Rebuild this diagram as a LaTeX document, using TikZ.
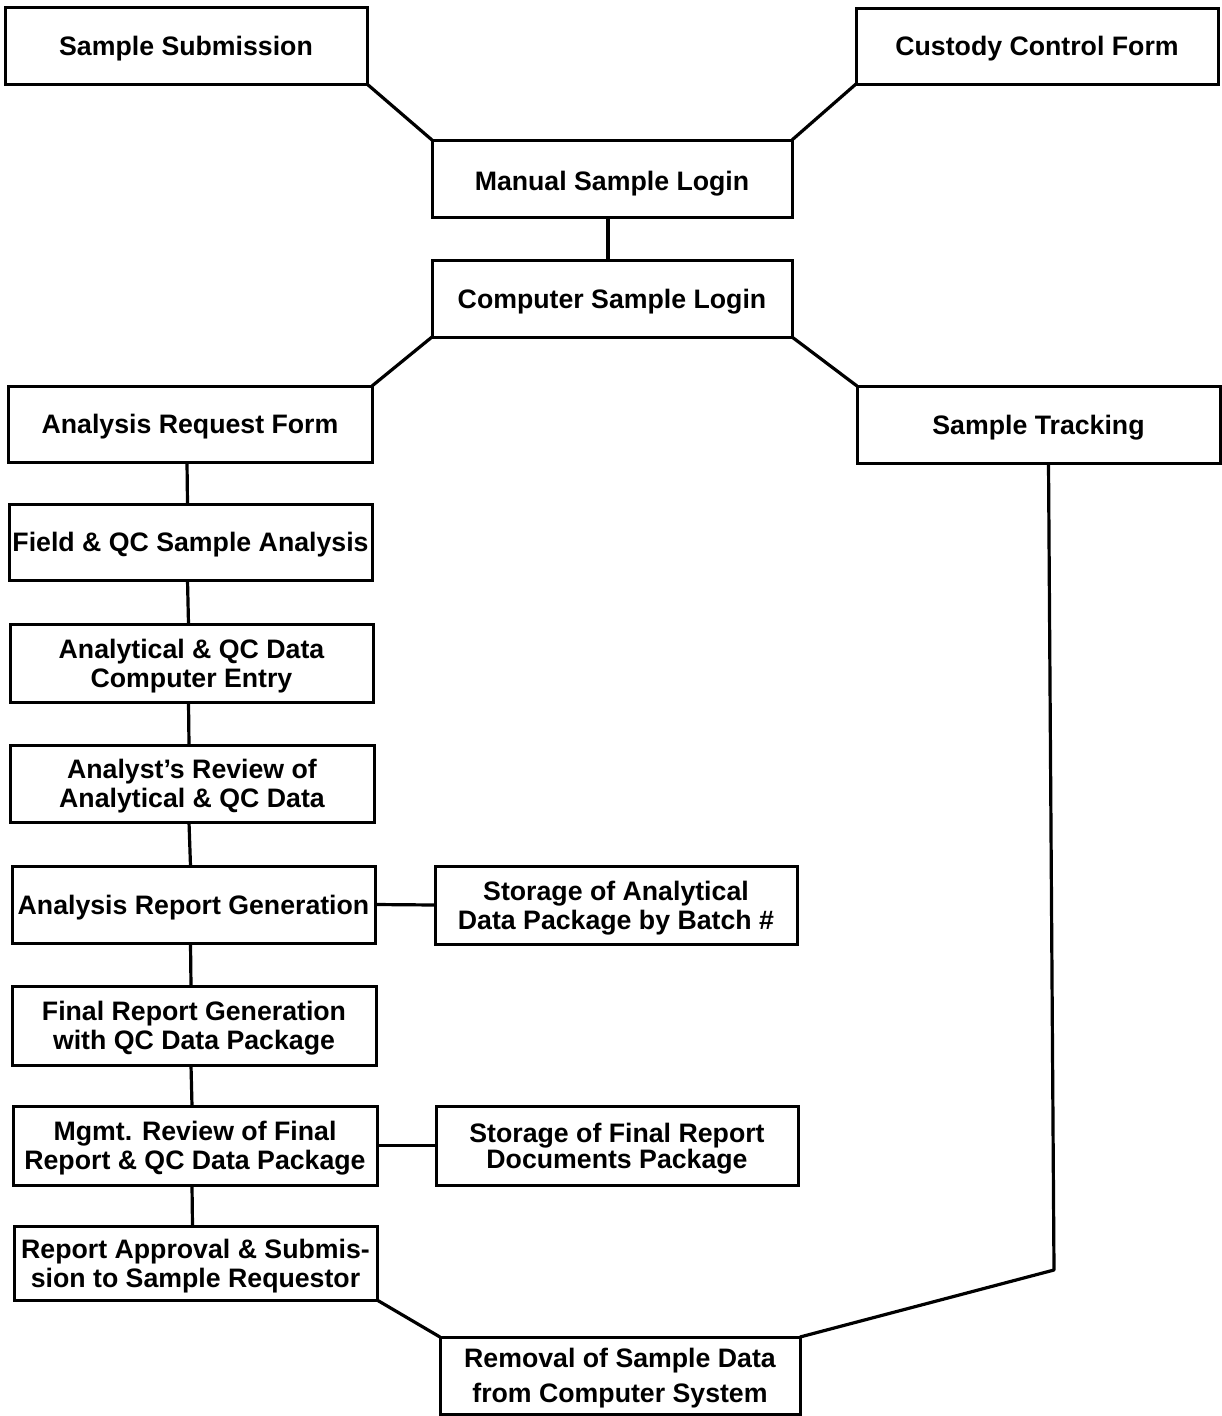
\documentclass[tikz,border=0pt]{standalone}
\usepackage{fontspec}
\setmainfont{Liberation Sans}
\begin{document}
\begin{tikzpicture}[x=1pt,y=-1pt,
  flowbox/.style={draw, line width=3pt, inner sep=0pt, outer sep=0pt,
    align=center, text depth=0pt, font=\bfseries\fontsize{26.7}{29}\selectfont},
  link/.style={line width=3.2pt, line join=round}]
\useasboundingbox[fill=white] (0,0) rectangle (1221,1416);

% top inputs and login
\node[flowbox, minimum width=362pt, minimum height=77pt] (ss)  at (186,45.5)   {Sample Submission};
\node[flowbox, minimum width=362pt, minimum height=76pt] (ccf) at (1037,46)    {Custody Control Form};
\node[flowbox, minimum width=360pt, minimum height=77pt] (msl) at (612,178.5)  {\raisebox{-5pt}{Manual Sample Login}};
\node[flowbox, minimum width=360pt, minimum height=77pt] (csl) at (612,298.5)  {Computer Sample Login};

% branches after login
\node[flowbox, minimum width=364pt, minimum height=76pt] (arf) at (190,424)    {Analysis Request Form};
\node[flowbox, minimum width=363pt, minimum height=77pt] (st)  at (1038.5,424.5) {Sample Tracking};

% analysis chain
\node[flowbox, minimum width=363pt, minimum height=76pt] (fqc) at (190.5,542)  {Field \& QC Sample Analysis};
\node[flowbox, minimum width=363pt, minimum height=78pt] (ace) at (191.5,663)  {Analytical \& QC Data\\Computer Entry};
\node[flowbox, minimum width=364pt, minimum height=77pt] (arv) at (192,783.5)  {Analyst's Review of\\Analytical \& QC Data};
\node[flowbox, minimum width=363pt, minimum height=77pt] (arg) at (193.5,904.5) {Analysis Report Generation};
\node[flowbox, minimum width=362pt, minimum height=78pt] (sad) at (616,905)    {Storage of Analytical\\Data Package by Batch \#};
\node[flowbox, minimum width=364pt, minimum height=79pt] (frg) at (194,1025.5) {Final Report Generation\\with QC Data Package};
\node[flowbox, minimum width=364pt, minimum height=79pt] (mrv) at (195,1145.5) {Mgmt. Review of Final\\Report \& QC Data Package};
\node[flowbox, minimum width=362pt, minimum height=79pt, font=\bfseries\fontsize{26.7}{26}\selectfont] (sfr) at (617,1145.5) {Storage of Final Report\\Documents Package};
\node[flowbox, minimum width=363pt, minimum height=74pt] (rap) at (195.5,1263) {Report Approval \& Submis-\\sion to Sample Requestor};
\node[flowbox, minimum width=360pt, minimum height=77pt, font=\bfseries\fontsize{26.7}{35}\selectfont] (rem) at (620,1375.5) {Removal of Sample Data\\from Computer System};

% bend of the tracking line
\coordinate (bend) at (1054,1270);

% connectors
\draw[link] (ss.south east) -- (msl.north west);
\draw[link] (ccf.south west) -- (msl.north east);
\draw[link] ([xshift=-4pt]msl.south) -- ([xshift=-4pt]csl.north);
\draw[link] (csl.south west) -- (arf.north east);
\draw[link] (csl.south east) -- (st.north west);
\draw[link] ([xshift=-3pt]arf.south) -- ([xshift=-3pt]fqc.north);
\draw[link] ([xshift=-3pt]fqc.south) -- ([xshift=-3pt]ace.north);
\draw[link] ([xshift=-3pt]ace.south) -- ([xshift=-3pt]arv.north);
\draw[link] ([xshift=-3pt]arv.south) -- ([xshift=-3pt]arg.north);
\draw[link] ([xshift=-3pt]arg.south) -- ([xshift=-3pt]frg.north);
\draw[link] ([xshift=-3pt]frg.south) -- ([xshift=-3pt]mrv.north);
\draw[link] ([xshift=-3pt]mrv.south) -- ([xshift=-3pt]rap.north);
\draw[link] (arg.east) -- (sad.west);
\draw[link] (mrv.east) -- (sfr.west);
\draw[link] (rap.south east) -- (rem.north west);
\draw[link] ([xshift=10pt]st.south) -- (bend) -- (rem.north east);
\end{tikzpicture}
\end{document}
